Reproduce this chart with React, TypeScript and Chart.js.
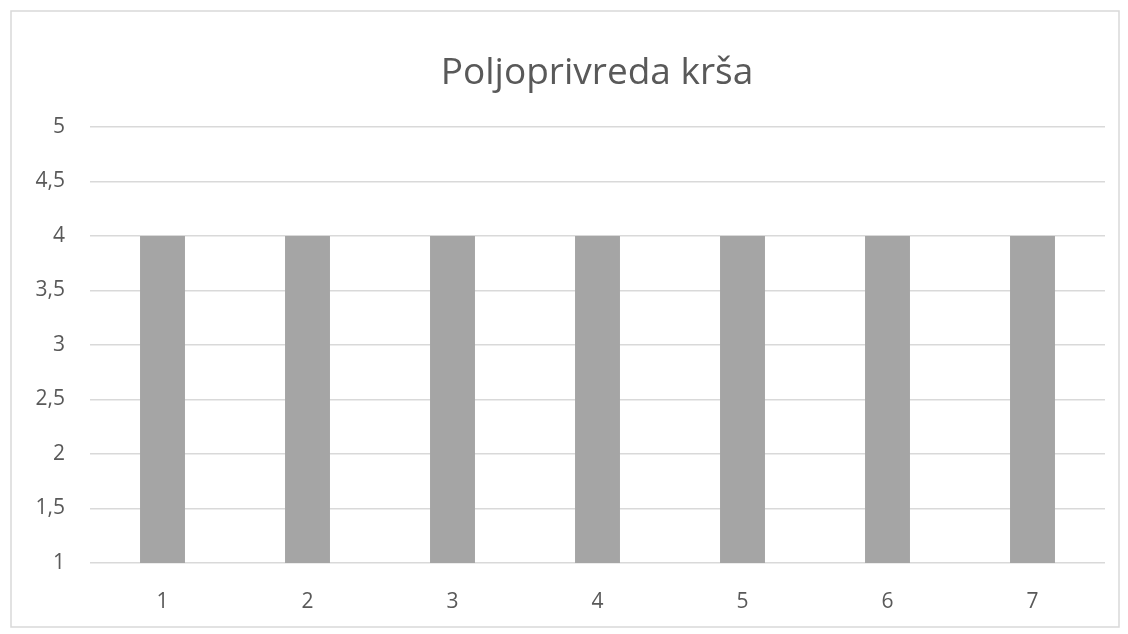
import React, { useEffect, useRef } from "react";
import { Chart, registerables } from "chart.js";

Chart.register(...registerables);

const TITLE = "Poljoprivreda krša";
const categories = ["1", "2", "3", "4", "5", "6", "7"];
const values = [4, 4, 4, 4, 4, 4, 4];
const yMin = 1;
const yMax = 5;
const yStep = 0.5;

const FONT = "'Open Sans', sans-serif";

const framePlugin = {
  id: "frame",
  beforeDraw(chart: any) {
    const ctx = chart.ctx;
    ctx.save();
    ctx.fillStyle = "#ffffff";
    ctx.fillRect(0, 0, chart.width, chart.height);
    ctx.strokeStyle = "#d9d9d9";
    ctx.lineWidth = 1.5;
    ctx.strokeRect(11, 11, chart.width - 20, chart.height - 18);
    ctx.restore();
  },
  afterDraw(chart: any) {
    const ctx = chart.ctx;
    ctx.save();
    ctx.fillStyle = "#595959";
    ctx.font = `normal 37px ${FONT}`;
    ctx.textAlign = "center";
    ctx.textBaseline = "alphabetic";
    ctx.fillText(TITLE, 597, 84);
    ctx.restore();
  },
};

export default function App() {
  const ref = useRef<HTMLCanvasElement | null>(null);
  useEffect(() => {
    document.body.style.margin = "0";
    const canvas = ref.current;
    if (!canvas) return;
    const chart = new Chart(canvas, {
      type: "bar",
      data: {
        labels: categories,
        datasets: [
          {
            data: values,
            backgroundColor: "#a5a5a5",
            borderWidth: 0,
            categoryPercentage: 1,
            barPercentage: 0.31,
          },
        ],
      },
      plugins: [framePlugin],
      options: {
        animation: false,
        responsive: false,
        devicePixelRatio: 1,
        layout: { padding: { left: 10, right: 23, top: 127, bottom: 0 } },
        plugins: {
          legend: { display: false },
          tooltip: { enabled: false },
          title: { display: false },
        },
        scales: {
          x: {
            grid: { display: false, drawTicks: false },
            border: { display: false },
            ticks: {
              color: "#595959",
              font: { family: FONT, size: 21 },
              padding: 26,
              maxRotation: 0,
            },
            afterFit(scale: any) {
              scale.height = 71;
            },
          },
          y: {
            min: yMin,
            max: yMax,
            grid: { color: "#d9d9d9", lineWidth: 1.5, drawTicks: false },
            border: { display: false },
            ticks: {
              stepSize: yStep,
              color: "#595959",
              font: { family: FONT, size: 21 },
              padding: 25,
              callback: (v: any) => String(v).replace(".", ","),
            },
            afterFit(scale: any) {
              scale.width = 80;
            },
          },
        },
      },
    });
    return () => chart.destroy();
  }, []);
  return (
    <div style={{ width: 1128, height: 634 }}>
      <canvas ref={ref} width={1128} height={634} style={{ display: "block" }} />
    </div>
  );
}
